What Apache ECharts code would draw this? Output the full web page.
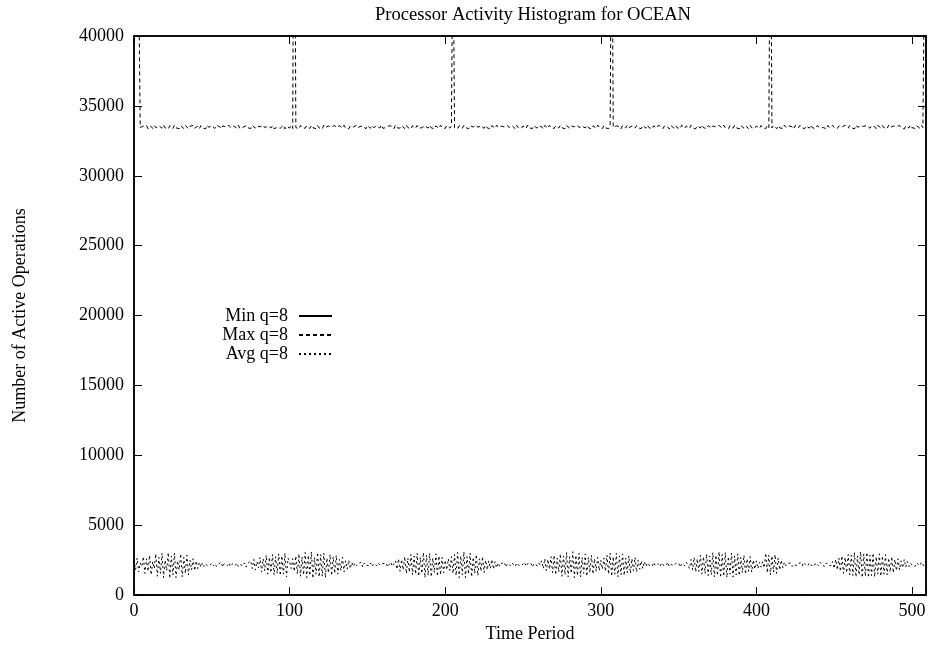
<!DOCTYPE html>
<html>
<head>
<meta charset="utf-8">
<script src="https://cdn.jsdelivr.net/npm/echarts@6/dist/echarts.min.js"></script>
<style>
  html, body { margin: 0; padding: 0; background: #fff; }
  #chart { width: 930px; height: 648px; }
</style>
</head>
<body>
<div id="chart"></div>
<script>
// 图表数据: 每个时间段的活动操作数 (下标 = Time Period)
var seriesNames = ['Min q=8', 'Max q=8', 'Avg q=8'];
var xTicks = [0, 100, 200, 300, 400, 500];
var yTicks = [0, 5000, 10000, 15000, 20000, 25000, 30000, 35000, 40000];

// Min 线贴着 x 轴 (图中看不到实线)
var minOps = [
  0, 0, 0, 0, 0, 0, 0, 0, 0, 0,  0, 0, 0, 0, 0, 0, 0, 0, 0, 0,
  0, 0, 0, 0, 0, 0, 0, 0, 0, 0,  0, 0, 0, 0, 0, 0, 0, 0, 0, 0,
  0, 0, 0, 0, 0, 0, 0, 0, 0, 0,  0, 0, 0, 0, 0, 0, 0, 0, 0, 0,
  0, 0, 0, 0, 0, 0, 0, 0, 0, 0,  0, 0, 0, 0, 0, 0, 0, 0, 0, 0,
  0, 0, 0, 0, 0, 0, 0, 0, 0, 0,  0, 0, 0, 0, 0, 0, 0, 0, 0, 0,
  0, 0, 0, 0, 0, 0, 0, 0, 0, 0,  0, 0, 0, 0, 0, 0, 0, 0, 0, 0,
  0, 0, 0, 0, 0, 0, 0, 0, 0, 0,  0, 0, 0, 0, 0, 0, 0, 0, 0, 0,
  0, 0, 0, 0, 0, 0, 0, 0, 0, 0,  0, 0, 0, 0, 0, 0, 0, 0, 0, 0,
  0, 0, 0, 0, 0, 0, 0, 0, 0, 0,  0, 0, 0, 0, 0, 0, 0, 0, 0, 0,
  0, 0, 0, 0, 0, 0, 0, 0, 0, 0,  0, 0, 0, 0, 0, 0, 0, 0, 0, 0,
  0, 0, 0, 0, 0, 0, 0, 0, 0, 0,  0, 0, 0, 0, 0, 0, 0, 0, 0, 0,
  0, 0, 0, 0, 0, 0, 0, 0, 0, 0,  0, 0, 0, 0, 0, 0, 0, 0, 0, 0,
  0, 0, 0, 0, 0, 0, 0, 0, 0, 0,  0, 0, 0, 0, 0, 0, 0, 0, 0, 0,
  0, 0, 0, 0, 0, 0, 0, 0, 0, 0,  0, 0, 0, 0, 0, 0, 0, 0, 0, 0,
  0, 0, 0, 0, 0, 0, 0, 0, 0, 0,  0, 0, 0, 0, 0, 0, 0, 0, 0, 0,
  0, 0, 0, 0, 0, 0, 0, 0, 0, 0,  0, 0, 0, 0, 0, 0, 0, 0, 0, 0,
  0, 0, 0, 0, 0, 0, 0, 0, 0, 0,  0, 0, 0, 0, 0, 0, 0, 0, 0, 0,
  0, 0, 0, 0, 0, 0, 0, 0, 0, 0,  0, 0, 0, 0, 0, 0, 0, 0, 0, 0,
  0, 0, 0, 0, 0, 0, 0, 0, 0, 0,  0, 0, 0, 0, 0, 0, 0, 0, 0, 0,
  0, 0, 0, 0, 0, 0, 0, 0, 0, 0,  0, 0, 0, 0, 0, 0, 0, 0, 0, 0,
  0, 0, 0, 0, 0, 0, 0, 0, 0, 0,  0, 0, 0, 0, 0, 0, 0, 0, 0, 0,
  0, 0, 0, 0, 0, 0, 0, 0, 0, 0,  0, 0, 0, 0, 0, 0, 0, 0, 0, 0,
  0, 0, 0, 0, 0, 0, 0, 0, 0, 0,  0, 0, 0, 0, 0, 0, 0, 0, 0, 0,
  0, 0, 0, 0, 0, 0, 0, 0, 0, 0,  0, 0, 0, 0, 0, 0, 0, 0, 0, 0,
  0, 0, 0, 0, 0, 0, 0, 0, 0, 0,  0, 0, 0, 0, 0, 0, 0, 0, 0, 0,
  0, 0, 0, 0, 0, 0, 0, 0, 0, 0
];

var maxOps = [
  60000, 55000, 50000, 44300, 33450, 33380, 33560, 33420, 33610, 33350,
  33480, 33540, 33390, 33600, 33440, 33360, 33580, 33470, 33400, 33630,
  33420, 33510, 33350, 33590, 33460, 33380, 33620, 33430, 33500, 33370,
  33570, 33450, 33390, 33610, 33480, 33360, 33540, 33420, 33600, 33400,
  33460, 33550, 33370, 33590, 33430, 33500, 33350, 33620, 33470, 33410,
  33580, 33440, 33380, 33600, 33460, 33520, 33360, 33570, 33430, 33490,
  33400, 33610, 33450, 33370, 33560, 33480, 33420, 33630, 33390, 33510,
  33460, 33350, 33590, 33440, 33530, 33380, 33600, 33470, 33410, 33570,
  33430, 33500, 33360, 33620, 33450, 33390, 33550, 33480, 33420, 33600,
  33370, 33510, 33460, 33580, 33400, 33440, 33620, 33350, 33530, 33470,
  33410, 33590, 33380, 60000, 33450, 33520, 33360, 33600, 33430, 33490,
  33400, 33570, 33460, 33380, 33610, 33440, 33510, 33370, 33590, 33420,
  33480, 33350, 33620, 33460, 33410, 33560, 33430, 33500, 33390, 33600,
  33450, 33370, 33580, 33470, 33420, 33610, 33400, 33530, 33360, 33570,
  33440, 33490, 33380, 33620, 33460, 33410, 33550, 33430, 33500, 33350,
  33590, 33470, 33400, 33600, 33450, 33380, 33560, 33480, 33420, 33630,
  33390, 33510, 33460, 33360, 33580, 33440, 33530, 33370, 33610, 33430,
  33490, 33410, 33570, 33460, 33380, 33620, 33450, 33500, 33350, 33590,
  33470, 33420, 33600, 33400, 33540, 33440, 33370, 33580, 33480, 33410,
  33610, 33430, 33500, 33360, 33570, 33460, 33390, 33620, 33450, 33520,
  33380, 33600, 33470, 33410, 33560, 48000, 33430, 33500, 33370, 33590,
  33450, 33400, 33610, 33460, 33530, 33360, 33580, 33440, 33490, 33380,
  33620, 33470, 33420, 33570, 33450, 33390, 33600, 33430, 33510, 33350,
  33590, 33480, 33410, 33620, 33460, 33380, 33550, 33440, 33500, 33370,
  33600, 33450, 33420, 33580, 33470, 33360, 33610, 33430, 33520, 33400,
  33560, 33460, 33390, 33630, 33440, 33500, 33370, 33590, 33480, 33410,
  33570, 33430, 33510, 33350, 33600, 33460, 33400, 33620, 33450, 33530,
  33380, 33580, 33470, 33420, 33610, 33440, 33490, 33360, 33590, 33460,
  33410, 33570, 33430, 33500, 33370, 33620, 33450, 33390, 33560, 33480,
  33420, 33600, 33440, 33510, 33360, 33580, 33470, 33400, 33630, 33450,
  33520, 33380, 33590, 33430, 33490, 33370, 33610, 52000, 33460, 33410,
  33570, 33440, 33500, 33350, 33600, 33480, 33420, 33620, 33450, 33390,
  33550, 33470, 33410, 33590, 33430, 33510, 33370, 33600, 33460, 33400,
  33620, 33440, 33490, 33360, 33580, 33450, 33420, 33610, 33470, 33530,
  33380, 33570, 33430, 33500, 33350, 33600, 33460, 33410, 33590, 33440,
  33520, 33370, 33620, 33480, 33400, 33560, 33450, 33390, 33610, 33430,
  33500, 33360, 33580, 33470, 33420, 33630, 33440, 33510, 33380, 33590,
  33460, 33410, 33570, 33450, 33490, 33350, 33600, 33480, 33420, 33620,
  33430, 33530, 33370, 33580, 33460, 33400, 33610, 33440, 33500, 33360,
  33590, 33470, 33410, 33570, 33450, 33380, 33620, 33430, 33520, 33400,
  33560, 33460, 33390, 33600, 33440, 33490, 33370, 33610, 33450, 52000,
  33420, 33580, 33470, 33360, 33590, 33430, 33510, 33380, 33620, 33460,
  33400, 33570, 33450, 33500, 33350, 33600, 33480, 33420, 33610, 33440,
  33530, 33370, 33580, 33460, 33410, 33630, 33430, 33490, 33390, 33590,
  33470, 33420, 33560, 33450, 33510, 33360, 33600, 33440, 33400, 33620,
  33460, 33520, 33380, 33570, 33430, 33490, 33370, 33610, 33480, 33410,
  33590, 33440, 33500, 33350, 33620, 33470, 33420, 33580, 33450, 33530,
  33390, 33600, 33460, 33400, 33570, 33430, 33510, 33360, 33610, 33480,
  33420, 33590, 33440, 33500, 33370, 33620, 33450, 33410, 33560, 33470,
  33520, 33380, 33600, 33430, 33490, 33350, 33580, 33460, 33420, 33630,
  33440, 33510, 33390, 33570, 33470, 33400, 33610, 33450, 45000, 60000
];

var avgOps = [
  2500, 1800, 2650, 1650, 2300, 2050, 2750, 1550, 2600, 1700,
  2850, 1450, 2400, 1900, 2950, 1350, 2700, 1550, 3000, 1250,
  2500, 1750, 3050, 1200, 2800, 1450, 3000, 1250, 2450, 1800,
  2950, 1300, 2700, 1550, 2850, 1450, 2500, 1800, 2600, 1750,
  2450, 1900, 2350, 2000, 2300, 2050, 2250, 2100, 2200, 2150,
  2300, 2100, 2250, 2050, 2200, 2150, 2350, 2000, 2250, 2150,
  2100, 2300, 2050, 2250, 2200, 2100, 2300, 2050, 2200, 2250,
  2100, 2300, 2000, 2250, 2150, 2450, 1900, 2550, 1800, 2400,
  1950, 2700, 1650, 2600, 1750, 2850, 1500, 2700, 1600, 2900,
  1450, 2750, 1550, 2950, 1400, 2800, 1500, 3000, 1300, 2650,
  2400, 1900, 2600, 1700, 2800, 1500, 2950, 1350, 2750, 1450,
  3050, 1250, 2850, 1400, 3100, 1200, 2700, 1500, 3050, 1300,
  2900, 1350, 3000, 1250, 2650, 1600, 2900, 1400, 2750, 1550,
  2850, 1500, 2550, 1750, 2700, 1650, 2450, 1850, 2500, 1900,
  2350, 2050, 2300, 2100, 2250, 2150, 2350, 2000, 2300, 2150,
  2200, 2100, 2300, 2050, 2250, 2200, 2100, 2300, 2150, 2050,
  2250, 2150, 2300, 2000, 2200, 2350, 2050, 2250, 2450, 1850,
  2600, 1700, 2550, 1800, 2750, 1550, 2650, 1650, 2900, 1450,
  2800, 1500, 3000, 1350, 2700, 1550, 3050, 1250, 2850, 1400,
  3000, 1300, 2650, 1600, 2950, 1350, 2800, 1450, 2700, 1600,
  2500, 1800, 2600, 1750, 2750, 1550, 2900, 1400, 3050, 1250,
  2800, 1450, 3100, 1250, 2750, 1500, 3000, 1300, 2700, 1550,
  2900, 1400, 2600, 1700, 2750, 1600, 2500, 1800, 2450, 1900,
  2550, 1850, 2400, 1950, 2300, 2050, 2250, 2150, 2350, 2000,
  2250, 2150, 2100, 2300, 2200, 2050, 2300, 2150, 2250, 2100,
  2200, 2350, 2050, 2250, 2150, 2300, 2000, 2250, 2200, 2100,
  2300, 2150, 2450, 1900, 2600, 1750, 2550, 1850, 2750, 1600,
  2850, 1450, 2650, 1650, 2950, 1350, 2800, 1450, 3050, 1300,
  2750, 1550, 3100, 1250, 2850, 1400, 3000, 1300, 2700, 1550,
  2950, 1350, 2700, 1600, 2850, 1500, 2600, 1700, 2700, 1750,
  2500, 1850, 2650, 1700, 2850, 1500, 3000, 1350, 2750, 1500,
  3000, 1300, 2800, 1450, 2950, 1400, 2650, 1600, 2800, 1550,
  2600, 1750, 2700, 1650, 2500, 1850, 2450, 1900, 2400, 2050,
  2300, 2150, 2250, 2050, 2350, 2100, 2200, 2250, 2050, 2300,
  2150, 2250, 2100, 2350, 2050, 2200, 2300, 2100, 2250, 2150,
  2300, 2000, 2250, 2200, 2100, 2350, 2450, 1900, 2550, 1800,
  2700, 1650, 2600, 1700, 2850, 1500, 2750, 1550, 2950, 1400,
  2800, 1450, 3050, 1300, 2850, 1400, 3100, 1250, 2900, 1350,
  3050, 1250, 2750, 1500, 3000, 1300, 2800, 1450, 2950, 1400,
  2700, 1600, 2850, 1500, 2600, 1700, 2750, 1650, 2500, 1850,
  2450, 1900, 2350, 2000, 2400, 1950, 3000, 1600, 2850, 1450,
  2800, 1650, 2900, 1550, 2650, 1800, 2500, 1950, 2350, 2100,
  2250, 2150, 2300, 2050, 2200, 2300, 2100, 2250, 2150, 2350,
  2050, 2250, 2200, 2100, 2300, 2150, 2250, 2050, 2300, 2200,
  2100, 2350, 2150, 2250, 2050, 2300, 2150, 2250, 2100, 2400,
  1900, 2550, 1800, 2650, 1700, 2800, 1550, 2700, 1600, 2900,
  1450, 2850, 1400, 3050, 1300, 2800, 1450, 3100, 1250, 2950,
  1350, 3050, 1250, 2850, 1400, 3000, 1300, 2750, 1500, 2950,
  1350, 2800, 1500, 2900, 1450, 2650, 1650, 2750, 1600, 2550,
  1750, 2600, 1800, 2450, 1950, 2550, 2000, 2400, 2050, 2300,
  2150, 2250, 2050, 2300, 2200, 2100, 2350, 2150, 2250, 2100
];

function toPoints(arr) {
  return arr.map(function (v, i) { return [i, v]; });
}

var serif = 'Liberation Serif, Times New Roman, serif';
var chart = echarts.init(document.getElementById('chart'));

function ticks() {
  return { show: true, inside: true, length: 8, lineStyle: { color: '#000', width: 1 } };
}
function frameLine() {
  return { show: true, onZero: false, lineStyle: { color: '#000', width: 1.5 } };
}

var option = {
  animation: false,
  backgroundColor: '#fff',
  textStyle: { fontFamily: serif, color: '#000' },
  title: {
    text: 'Processor Activity Histogram for OCEAN',
    left: 370,
    top: 1,
    textStyle: { fontFamily: serif, fontSize: 18.6, fontWeight: 'normal', color: '#000' }
  },
  legend: {
    data: seriesNames,
    orient: 'vertical',
    align: 'right',
    right: 597,
    top: 307,
    padding: 0,
    itemWidth: 33,
    itemHeight: 14,
    itemGap: 1,
    itemStyle: { opacity: 0 },
    textStyle: { fontFamily: serif, fontSize: 18, color: '#000', padding: [0, 6, 0, 0] }
  },
  grid: {
    left: 134, right: 4, top: 36, bottom: 52,
    show: true, borderColor: '#000', borderWidth: 1.5
  },
  xAxis: [{
    type: 'value', min: 0, max: 509, interval: 100,
    name: 'Time Period', nameLocation: 'middle', nameGap: 27,
    nameTextStyle: { fontFamily: serif, fontSize: 18, color: '#000' },
    axisLine: frameLine(),
    axisTick: ticks(),
    splitLine: { show: false },
    axisLabel: {
      fontFamily: serif, fontSize: 18, color: '#000', margin: 7,
      formatter: function (v) { return xTicks.indexOf(v) >= 0 ? String(v) : ''; }
    }
  }, {
    type: 'value', min: 0, max: 509, interval: 100, position: 'top',
    axisLine: frameLine(),
    axisTick: ticks(),
    axisLabel: { show: false }, splitLine: { show: false }
  }],
  yAxis: [{
    type: 'value', min: 0, max: 40000, interval: 5000,
    name: 'Number of Active Operations', nameLocation: 'middle', nameGap: 105,
    nameTextStyle: { fontFamily: serif, fontSize: 18, color: '#000' },
    axisLine: frameLine(),
    axisTick: ticks(),
    splitLine: { show: false },
    axisLabel: {
      fontFamily: serif, fontSize: 18, color: '#000', margin: 10,
      formatter: function (v) { return yTicks.indexOf(v) >= 0 ? String(v) : ''; }
    }
  }, {
    type: 'value', min: 0, max: 40000, interval: 5000, position: 'right',
    axisLine: frameLine(),
    axisTick: ticks(),
    axisLabel: { show: false }, splitLine: { show: false }
  }],
  series: [{
    name: seriesNames[0], type: 'line', showSymbol: false, symbol: 'none',
    data: toPoints(minOps),
    lineStyle: { color: '#000', width: 1, type: 'solid' },
    itemStyle: { color: '#000' }
  }, {
    name: seriesNames[1], type: 'line', showSymbol: false, symbol: 'none',
    data: toPoints(maxOps),
    lineStyle: { color: '#000', width: 1, type: [4, 3] },
    itemStyle: { color: '#000' }
  }, {
    name: seriesNames[2], type: 'line', showSymbol: false, symbol: 'none',
    data: toPoints(avgOps),
    lineStyle: { color: '#000', width: 1, type: [2, 3] },
    itemStyle: { color: '#000' }
  }]
};

chart.setOption(option);
</script>
</body>
</html>
